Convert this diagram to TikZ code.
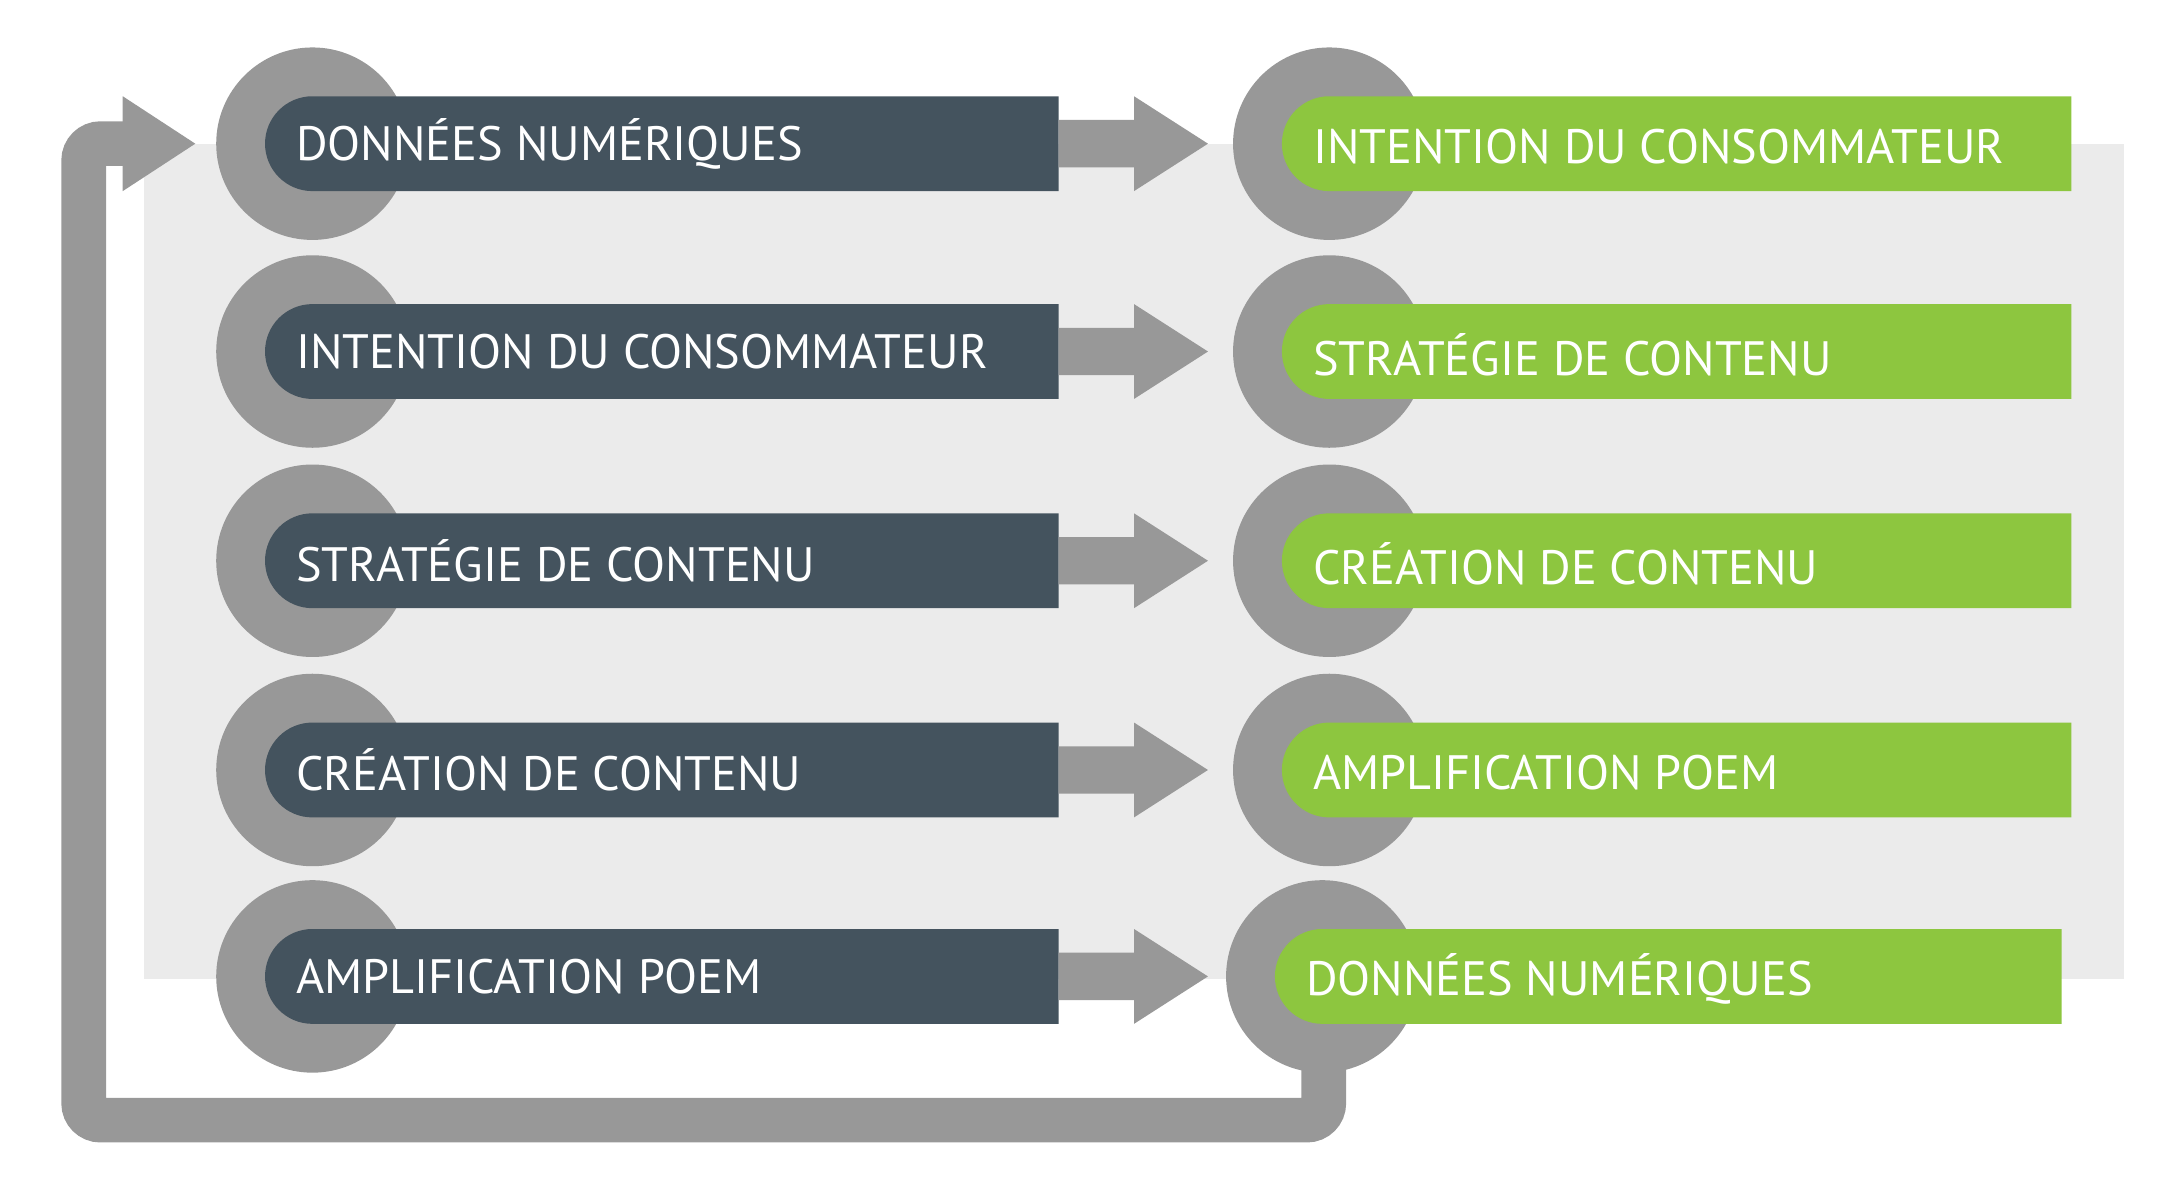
\documentclass[tikz,border=0pt]{standalone}
\usepackage{fontspec}
\setmainfont{PT Sans}
\definecolor{bg}{HTML}{EBEBEB}
\definecolor{cgray}{HTML}{989898}
\definecolor{dark}{HTML}{44535E}
\definecolor{lgreen}{HTML}{8DC63F}
\begin{document}
\begin{tikzpicture}[x=0.5pt,y=-0.5pt,
  circ/.style={circle,fill=cgray,minimum size=69pt,inner sep=0pt},
  txt/.style={text=white,font=\fontsize{17.3}{19}\selectfont,anchor=west,inner sep=0pt},
  arr/.style={fill=cgray}]
\useasboundingbox (0,0) rectangle (1560,853);
\fill[bg] (103,103) rectangle (1523,702);
% loop
\draw[cgray,line width=16pt,rounded corners=6pt] (949,740) -- (949,803) coordinate (lb) -- (60,803) -- (60,103) -- (95,103) coordinate (lt);
\fill[cgray] (88,69) -- (140,103) -- (88,137) -- cycle;
\foreach \i/\y/\L/\R/\rx/\re in {
 1/103/DONNÉES NUMÉRIQUES/INTENTION DU CONSOMMATEUR/953/1485,
 2/252/INTENTION DU CONSOMMATEUR/STRATÉGIE DE CONTENU/953/1485,
 3/402/STRATÉGIE DE CONTENU/CRÉATION DE CONTENU/953/1485,
 4/552/CRÉATION DE CONTENU/AMPLIFICATION POEM/953/1485,
 5/700/AMPLIFICATION POEM/DONNÉES NUMÉRIQUES/948/1478}{
  \node[circ] (lc\i) at (224,\y) {};
  \node[circ] (rc\i) at (\rx,\y) {};
  \fill[dark] (224,\y) circle[radius=17pt] (224,\y-34) rectangle (759,\y+34);
  \fill[lgreen] (\rx,\y) circle[radius=17pt] (\rx,\y-34) rectangle (\re,\y+34);
  \fill[arr] (759,\y-17) -- (813,\y-17) -- (813,\y-34) -- (866,\y) -- (813,\y+34) -- (813,\y+17) -- (759,\y+17) -- cycle;
  \node[txt] (lt\i) at (212,\y) {\L};
  \node[txt] (rt\i) at (\rx-12,\y+2) {\R};
}
\end{tikzpicture}
\end{document}
